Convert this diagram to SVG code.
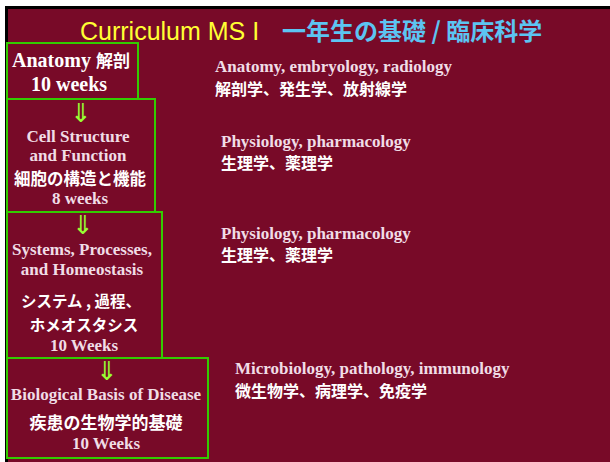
<svg xmlns="http://www.w3.org/2000/svg" width="610" height="462" viewBox="0 0 610 462">
<style>
.en{font-family:"Liberation Serif","Times New Roman",serif;font-weight:bold;fill:#f0dde6;font-size:17px}
.jp{font-family:"Noto Sans CJK JP","Noto Sans",sans-serif;font-weight:bold;fill:#ffffff;font-size:16px}
.box{fill:none;stroke:#33cc00;stroke-width:2}
.arr{font-family:"DejaVu Sans",sans-serif;fill:#99ff33;font-size:26px}
</style>
<rect width="610" height="462" fill="#ffffff"/>
<rect x="5" y="6" width="605" height="456" fill="#000000"/>
<rect x="8" y="9" width="602" height="453" fill="#780a28"/>
<g id="title">
<text x="80" y="40" font-family="Liberation Sans,Arial,sans-serif" font-size="25" fill="#ffff33">Curriculum MS I</text>
<text x="282" y="40" font-family="Noto Sans CJK JP,sans-serif" font-weight="bold" font-size="24" fill="#5cc4f2">一年生の基礎 / 臨床科学</text>
</g>
<g id="connectors">
<text class="arr" x="81" y="122" text-anchor="middle">⇓</text>
<text class="arr" x="83" y="234" text-anchor="middle">⇓</text>
<text class="arr" x="107" y="380" text-anchor="middle">⇓</text>
</g>
<g id="anatomy">
<rect class="box" x="7" y="43" width="131" height="56"/>
<text class="en" x="71" y="67" text-anchor="middle" style="font-size:20px;fill:#ffffff">Anatomy <tspan class="jp" style="font-size:17px">解剖</tspan></text>
<text class="en" x="69" y="91" text-anchor="middle" style="font-size:20px;fill:#ffffff">10 weeks</text>
</g>
<g id="cell">
<rect class="box" x="7" y="99" width="148" height="113"/>
<text class="en" x="78" y="142" text-anchor="middle">Cell Structure</text>
<text class="en" x="78" y="161" text-anchor="middle">and Function</text>
<text class="jp" x="80" y="185" text-anchor="middle" style="font-size:16.5px">細胞の構造と機能</text>
<text class="en" x="80" y="204" text-anchor="middle">8 weeks</text>
</g>
<g id="systems">
<rect class="box" x="7" y="212" width="155" height="146"/>
<text class="en" x="82" y="255" text-anchor="middle">Systems, Processes,</text>
<text class="en" x="82" y="275" text-anchor="middle">and Homeostasis</text>
<text class="jp" x="81" y="307" text-anchor="middle" style="font-size:15.5px">システム , 過程、</text>
<text class="jp" x="84" y="331" text-anchor="middle" style="font-size:15.5px">ホメオスタシス</text>
<text class="en" x="84" y="351" text-anchor="middle">10 Weeks</text>
</g>
<g id="disease">
<rect class="box" x="7" y="358" width="201" height="100"/>
<text class="en" x="106" y="400" text-anchor="middle">Biological Basis of Disease</text>
<text class="jp" x="106" y="429" text-anchor="middle" style="font-size:17px">疾患の生物学的基礎</text>
<text class="en" x="106" y="449" text-anchor="middle">10 Weeks</text>
</g>
<g id="notes">
<text class="en" x="215" y="72">Anatomy, embryology, radiology</text>
<text class="jp" x="215" y="95">解剖学、発生学、放射線学</text>
<text class="en" x="221" y="147">Physiology, pharmacology</text>
<text class="jp" x="221" y="169">生理学、薬理学</text>
<text class="en" x="221" y="239">Physiology, pharmacology</text>
<text class="jp" x="221" y="261">生理学、薬理学</text>
<text class="en" x="235" y="374">Microbiology, pathology, immunology</text>
<text class="jp" x="235" y="397">微生物学、病理学、免疫学</text>
</g>
</svg>
